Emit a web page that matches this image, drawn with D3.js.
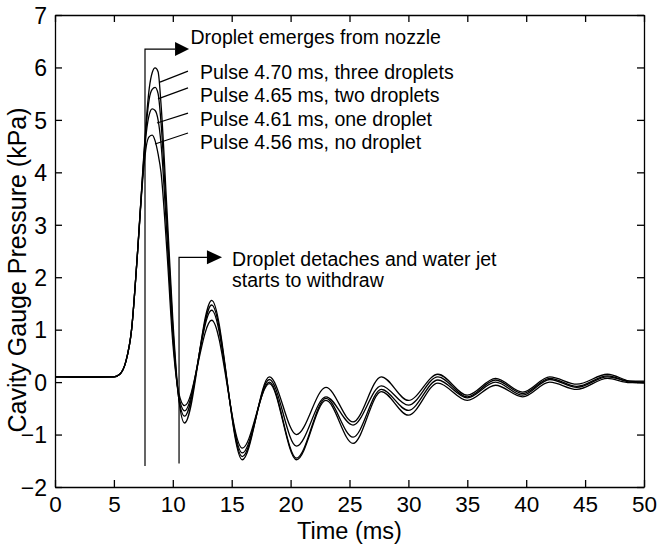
<!DOCTYPE html>
<html>
<head>
<meta charset="utf-8">
<script src="https://cdn.jsdelivr.net/npm/d3@7"></script>
<style>
  body { margin: 0; background: #fff; }
  text { font-family: "Liberation Sans", Arial, Helvetica, sans-serif; fill: #000; }
</style>
</head>
<body>
<div id="chart"></div>
<script>
// time (ms) shared by all four traces
var time = [0, 2.5, 5.0, 5.5, 6.0, 6.5, 7.0, 7.5, 7.75, 8.0, 8.25, 8.5, 8.75, 9.0, 9.5, 10.0, 10.5, 11.0,
    13.3, 15.9, 18.2, 20.5, 23.0, 25.3, 27.7, 30.0, 32.5, 35.0, 37.4, 39.7, 42.0, 44.3, 46.9, 48.8, 50]

// cavity gauge pressure (kPa) for each pulse width
var p470 = [0.1, 0.09, 0.1, 0.15, 0.38, 1.0, 2.45, 4.2, 5.0, 5.6, 5.9, 5.99, 5.92, 5.3, 3.3, 1.2, -0.3, -0.78,
    1.56, -1.48, 0.1, -1.0, -0.1, -0.76, 0.1, -0.35, 0.15, -0.25, 0.07, -0.19, 0.1, -0.04, 0.15, 0.02, 0.0]
var p465 = [0.1, 0.1, 0.1, 0.15, 0.38, 1.0, 2.45, 4.15, 4.9, 5.4, 5.58, 5.62, 5.5, 4.95, 3.05, 1.05, -0.3, -0.65,
    1.47, -1.42, 0.05, -1.22, -0.28, -0.82, -0.07, -0.44, 0.1, -0.28, 0.04, -0.22, 0.07, -0.08, 0.12, 0.0, -0.02]
var p461 = [0.1, 0.1, 0.1, 0.15, 0.38, 1.0, 2.45, 4.1, 4.75, 5.1, 5.21, 5.18, 5.0, 4.55, 2.8, 0.9, -0.25, -0.55,
    1.37, -1.35, 0.0, -1.45, -0.31, -1.05, -0.14, -0.54, 0.04, -0.3, 0.0, -0.25, 0.05, -0.1, 0.1, 0.02, 0.02]
var p456 = [0.1, 0.1, 0.1, 0.15, 0.38, 1.0, 2.45, 4.0, 4.5, 4.68, 4.71, 4.6, 4.35, 4.0, 2.5, 0.75, -0.2, -0.45,
    1.18, -1.26, -0.03, -1.48, -0.35, -1.17, -0.18, -0.63, -0.02, -0.35, -0.06, -0.28, 0.0, -0.14, 0.07, -0.01, 0.0]

var seriesLabels = ['Pulse 4.70 ms, three droplets', 'Pulse 4.65 ms, two droplets',
    'Pulse 4.61 ms, one droplet', 'Pulse 4.56 ms, no droplet']
var series = [p470, p465, p461, p456]

var xTicks = [0, 5, 10, 15, 20, 25, 30, 35, 40, 45, 50]
var yTicks = [-2, -1, 0, 1, 2, 3, 4, 5, 6, 7]

var width = 658
var height = 544
var margin = { top: 15, right: 14, bottom: 57, left: 55 }

var svg = d3.select('#chart').append('svg')
    .attr('width', width)
    .attr('height', height)

var x = d3.scaleLinear().domain([0, 50]).range([margin.left, width - margin.right])
var y = d3.scaleLinear().domain([-2, 7]).range([height - margin.bottom, margin.top])

// frame with inward ticks on all four sides
var tickLen = 7
svg.append('g')
    .attr('transform', 'translate(0,' + y(-2) + ')')
    .call(d3.axisBottom(x).tickValues(xTicks).tickSizeInner(-tickLen).tickSizeOuter(0).tickPadding(9))
    .call(g => g.selectAll('text').attr('font-size', '22.5px'))
svg.append('g')
    .attr('transform', 'translate(0,' + y(7) + ')')
    .call(d3.axisTop(x).tickValues(xTicks).tickSizeInner(-tickLen).tickSizeOuter(0).tickFormat(''))
svg.append('g')
    .attr('transform', 'translate(' + x(0) + ',0)')
    .call(d3.axisLeft(y).tickValues(yTicks).tickSizeInner(-tickLen).tickSizeOuter(0).tickPadding(8))
    .call(g => g.selectAll('text').attr('font-size', '23px').attr('dy', '0.36em'))
svg.append('g')
    .attr('transform', 'translate(' + x(50) + ',0)')
    .call(d3.axisRight(y).tickValues(yTicks).tickSizeInner(-tickLen).tickSizeOuter(0).tickFormat(''))

svg.selectAll('.domain').attr('stroke', '#000').attr('stroke-width', 1.3)
svg.selectAll('.tick line').attr('stroke', '#000').attr('stroke-width', 1.3)
svg.selectAll('.tick text').attr('font-family', '"Liberation Sans", Arial, Helvetica, sans-serif').attr('fill', '#000')

// traces
var line = d3.line()
    .x(d => x(d[0]))
    .y(d => y(d[1]))
    .curve(d3.curveMonotoneX)

svg.append('g')
    .selectAll('path')
    .data(series)
    .join('path')
    .attr('d', s => line(time.map((t, i) => [t, s[i]])))
    .attr('fill', 'none')
    .attr('stroke', '#000')
    .attr('stroke-width', 1.3)

// arrows marking droplet events
var events = [
    { t: 7.64, v0: -1.6, v1: 6.35, tEnd: 10.19, tTip: 11.38, lines: ['Droplet emerges from nozzle'], tText: 11.5, vText: 6.45 },
    { t: 10.53, v0: -1.55, v1: 2.38, tEnd: 12.9, tTip: 14.18, lines: ['Droplet detaches and water jet', 'starts to withdraw'], tText: 15.03, vText: 2.21 }
]

events.forEach(e => {
    svg.append('path')
        .attr('d', 'M' + x(e.t) + ',' + y(e.v0) + 'V' + y(e.v1) + 'H' + x(e.tEnd))
        .attr('fill', 'none')
        .attr('stroke', '#000')
        .attr('stroke-width', 1.2)
    svg.append('path')
        .attr('d', 'M' + x(e.tEnd) + ',' + (y(e.v1) - 7) + 'L' + x(e.tTip) + ',' + y(e.v1) + 'L' + x(e.tEnd) + ',' + (y(e.v1) + 7) + 'Z')
        .attr('fill', '#000')
    var txt = svg.append('text')
        .attr('x', x(e.tText))
        .attr('y', y(e.vText))
        .attr('font-size', '19.5px')
    e.lines.forEach((l, i) => {
        txt.append('tspan')
            .attr('x', x(e.tText))
            .attr('dy', i == 0 ? 0 : 21)
            .text(l)
    })
})

// leader lines from labels to traces
var leaderStart = [[11.29, 5.93], [11.29, 5.61], [11.29, 5.13], [11.29, 4.75]]
var leaderEnd = [[8.91, 5.72], [8.74, 5.40], [8.66, 4.94], [8.49, 4.54]]
var labelPos = [5.78, 5.34, 4.88, 4.44]

svg.append('g')
    .selectAll('line')
    .data(seriesLabels)
    .join('line')
    .attr('x1', (d, i) => x(leaderStart[i][0]))
    .attr('y1', (d, i) => y(leaderStart[i][1]))
    .attr('x2', (d, i) => x(leaderEnd[i][0]))
    .attr('y2', (d, i) => y(leaderEnd[i][1]))
    .attr('stroke', '#000')
    .attr('stroke-width', 1.2)

svg.append('g')
    .selectAll('text')
    .data(seriesLabels)
    .join('text')
    .attr('x', x(12.31))
    .attr('y', (d, i) => y(labelPos[i]))
    .attr('font-size', '19.5px')
    .text(d => d)

// axis titles
svg.append('text')
    .attr('x', x(25))
    .attr('y', 539)
    .attr('text-anchor', 'middle')
    .attr('font-size', '23.5px')
    .text('Time (ms)')

svg.append('text')
    .attr('transform', 'translate(26,270) rotate(-90)')
    .attr('text-anchor', 'middle')
    .attr('font-size', '25px')
    .text('Cavity Gauge Pressure (kPa)')
</script>
</body>
</html>
